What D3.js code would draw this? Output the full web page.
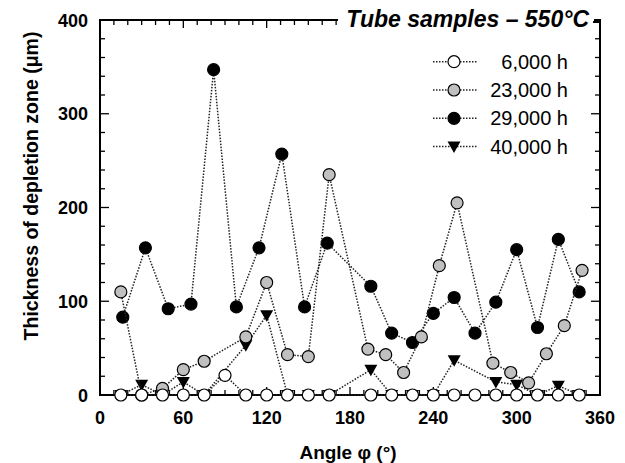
<!DOCTYPE html>
<html>
<head>
<meta charset="utf-8">
<script src="https://cdn.jsdelivr.net/npm/d3@7"></script>
<style>
  html, body { margin: 0; padding: 0; background: #fff; }
  svg { display: block; font-family: Arial, "Liberation Sans", sans-serif; }
</style>
</head>
<body>
<svg id="chart" width="625" height="463"></svg>
<script>
// angle (deg) / thickness (um)
const angles6k = [15, 30, 45, 60, 75, 90, 105, 120, 135, 150, 165, 195, 210, 225, 240, 255, 270, 285, 300, 315, 330, 345]
const values6k = [0, 0, 0, 0, 0, 21, 0, 0, 0, 0, 0, 0, 0, 0, 0, 0, 0, 0, 0, 0, 0, 0]

const angles23k = [15, 30, 45, 60, 75, 105, 120, 135, 150, 165, 192.9, 205.7, 218.6, 231.4, 244.3, 257.1, 282.9, 295.7, 308.6, 321.4, 334.3, 347.1]
const values23k = [110, 0, 7, 27, 36, 62, 120, 43, 41, 235, 49, 43, 24, 62, 138, 205, 34, 24, 13, 44, 74, 133]

const angles29k = [16.4, 32.7, 49.1, 65.5, 81.8, 98.2, 114.5, 130.9, 147.3, 163.6, 195, 210, 225, 240, 255, 270, 285, 300, 315, 330, 345]
const values29k = [83, 157, 92, 97, 347, 94, 157, 257, 94, 162, 116, 66, 56, 87, 104, 66, 99, 155, 72, 166, 110]

const angles40k = [15, 30, 45, 60, 75, 105, 120, 135, 150, 165, 195, 210, 225, 240, 255, 285, 300, 315, 330, 345]
const values40k = [0, 11, 0, 14, 0, 53, 85, 0, 0, 0, 27, 0, 0, 0, 37, 14, 11, 0, 10, 0]

const seriesNames = ['6,000 h', '23,000 h', '29,000 h', '40,000 h']
const xTicks = [0, 60, 120, 180, 240, 300, 360]
const yTicks = [0, 100, 200, 300, 400]
const chartTitle = 'Tube samples \u2013 550\u00B0C'
const xTitle = 'Angle \u03C6 (\u00B0)'
const yTitle = 'Thickness of depletion zone (\u03BCm)'

const zip = (a, v) => a.map((d, i) => ({ x: d, y: v[i] }))

// drawn bottom -> top
const series = [
    { name: seriesNames[3], pts: zip(angles40k, values40k), marker: 'tri', fill: '#000' },
    { name: seriesNames[2], pts: zip(angles29k, values29k), marker: 'circle', fill: '#000' },
    { name: seriesNames[1], pts: zip(angles23k, values23k), marker: 'circle', fill: '#c0c0c0' },
    { name: seriesNames[0], pts: zip(angles6k, values6k), marker: 'circle', fill: '#fff' }
]

const svg = d3.select('#chart')
const pLeft = 100, pRight = 600, pTop = 20, pBottom = 395

const x = d3.scaleLinear().domain([0, 360]).range([pLeft, pRight])
const y = d3.scaleLinear().domain([0, 400]).range([pBottom, pTop])

const triPath = 'M-6.5,-5L6.5,-5L0,6.5Z'

// ticks, inward on all four sides
const tickG = svg.append('g').attr('stroke', '#000').attr('stroke-width', 1.3)
d3.range(0, 361, 10).forEach(v => {
    const len = v % 60 === 0 ? 8 : 5
    tickG.append('line').attr('x1', x(v)).attr('x2', x(v)).attr('y1', pBottom).attr('y2', pBottom - len)
    tickG.append('line').attr('x1', x(v)).attr('x2', x(v)).attr('y1', pTop).attr('y2', pTop + len)
})
d3.range(0, 401, 20).forEach(v => {
    const len = v % 100 === 0 ? 9 : 5
    tickG.append('line').attr('x1', pLeft).attr('x2', pLeft + len).attr('y1', y(v)).attr('y2', y(v))
    tickG.append('line').attr('x1', pRight).attr('x2', pRight - len).attr('y1', y(v)).attr('y2', y(v))
})

svg.append('rect')
    .attr('x', pLeft).attr('y', pTop)
    .attr('width', pRight - pLeft).attr('height', pBottom - pTop)
    .attr('fill', 'none').attr('stroke', '#000').attr('stroke-width', 2)

// title box breaks the frame
svg.append('rect').attr('x', 338).attr('y', 0).attr('width', 256).attr('height', 33).attr('fill', '#fff')
svg.append('line').attr('x1', 593).attr('x2', 601).attr('y1', 22).attr('y2', 22)
    .attr('stroke', '#000').attr('stroke-width', 2)
svg.append('line').attr('x1', 600).attr('x2', 600).attr('y1', 21).attr('y2', 34)
    .attr('stroke', '#000').attr('stroke-width', 2)
svg.append('text')
    .attr('x', 589).attr('y', 27)
    .attr('text-anchor', 'end')
    .attr('font-size', 23).attr('font-weight', 'bold').attr('font-style', 'italic')
    .text(chartTitle)

// tick labels
svg.append('g').selectAll('text').data(xTicks).enter().append('text')
    .attr('x', d => x(d)).attr('y', 424)
    .attr('text-anchor', 'middle')
    .attr('font-size', 18).attr('font-weight', 'bold')
    .text(d => d)
svg.append('g').selectAll('text').data(yTicks).enter().append('text')
    .attr('x', 88).attr('y', d => y(d) + 6.5)
    .attr('text-anchor', 'end')
    .attr('font-size', 18).attr('font-weight', 'bold')
    .text(d => d)

svg.append('text')
    .attr('x', 348).attr('y', 459)
    .attr('text-anchor', 'middle')
    .attr('font-size', 19).attr('font-weight', 'bold')
    .text(xTitle)
svg.append('text')
    .attr('transform', 'translate(38,186) rotate(-90)')
    .attr('text-anchor', 'middle')
    .attr('font-size', 19.5).attr('font-weight', 'bold')
    .text(yTitle)

// series
const line = d3.line().x(d => x(d.x)).y(d => y(d.y))
series.forEach(s => {
    const g = svg.append('g')
    g.append('path').datum(s.pts)
        .attr('d', line)
        .attr('fill', 'none').attr('stroke', '#222')
        .attr('stroke-width', 1.5).attr('stroke-dasharray', '1.5,1.5')
    if (s.marker === 'tri') {
        g.selectAll('path.m').data(s.pts).enter().append('path')
            .attr('class', 'm')
            .attr('d', triPath)
            .attr('transform', d => `translate(${x(d.x)},${y(d.y)})`)
            .attr('fill', s.fill)
    } else {
        g.selectAll('circle').data(s.pts).enter().append('circle')
            .attr('cx', d => x(d.x)).attr('cy', d => y(d.y))
            .attr('r', 6).attr('fill', s.fill)
            .attr('stroke', '#000').attr('stroke-width', 1.2)
    }
})

// legend
const legendFill = ['#fff', '#c0c0c0', '#000', '#000']
const legendMarker = ['circle', 'circle', 'circle', 'tri']
const lg = svg.append('g')
seriesNames.forEach((name, i) => {
    const ly = 61.7 + i * 28.3
    lg.append('line').attr('x1', 433).attr('x2', 477).attr('y1', ly).attr('y2', ly)
        .attr('stroke', '#222').attr('stroke-width', 1.5).attr('stroke-dasharray', '1.5,1.5')
    if (legendMarker[i] === 'tri') {
        lg.append('path').attr('d', triPath).attr('transform', `translate(454,${ly})`).attr('fill', legendFill[i])
    } else {
        lg.append('circle').attr('cx', 454).attr('cy', ly).attr('r', 6)
            .attr('fill', legendFill[i]).attr('stroke', '#000').attr('stroke-width', 1.2)
    }
    lg.append('text').attr('x', 568).attr('y', ly + 7)
        .attr('text-anchor', 'end').attr('font-size', 20)
        .text(name)
})
</script>
</body>
</html>
